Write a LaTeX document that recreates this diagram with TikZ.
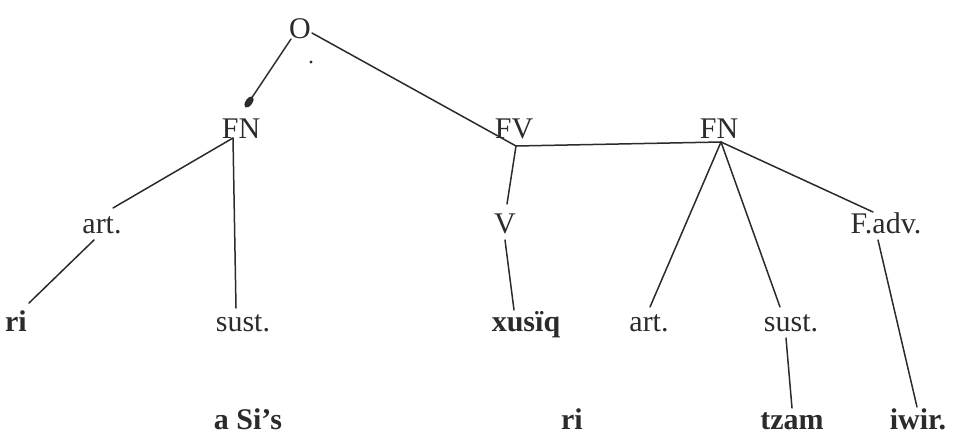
\documentclass[tikz,border=0pt]{standalone}
\usepackage{fontspec}
\setmainfont{Liberation Serif}
\definecolor{ink}{gray}{0.17}
\begin{document}
\begin{tikzpicture}[x=1pt,y=-1pt,
  lab/.style={anchor=base,inner sep=0pt,text=ink,font=\fontsize{30}{30}\selectfont},
  word/.style={lab,font=\fontsize{30}{30}\selectfont\bfseries},
  edge/.style={draw=ink,line width=1.5pt,line cap=round}]
\useasboundingbox (0,0) rectangle (962,434);
% labels of the tree
\node[lab]  (o)    at (300,38)  {O};
\node[lab]  (fn1)  at (241,138) {FN};
\node[lab]  (fv)   at (514,138) {FV};
\node[lab]  (fn2)  at (719,138) {FN};
\node[lab]  (art1) at (102,233) {art.};
\node[lab]  (v)    at (505,233) {V};
\node[lab]  (fadv) at (886,233) {F.adv.};
\node[word] (ri1)  at (16,331)  {ri};
\node[lab]  (sust1) at (243,331) {sust.};
\node[word] (xus)  at (526,331) {xusïq};
\node[lab]  (art2) at (649,331) {art.};
\node[lab]  (sust2) at (791,331) {sust.};
\node[word] (asis) at (248,429) {a Si’s};
\node[word] (ri2)  at (572,429) {ri};
\node[word] (tzam) at (792,429) {tzam};
\node[word] (iwir) at (918,429) {iwir.};
% branching points and line ends
\coordinate (o-l) at (291,39);
\coordinate (o-r) at (312,33);
\coordinate (fn1-top) at (249,102);
\coordinate (fn1-v) at (233,138);
\coordinate (fv-v) at (516,146);
\coordinate (fn2-v) at (721,142);
\coordinate (art1-t) at (113,208);
\coordinate (art1-b) at (94,240);
\coordinate (ri1-t) at (29,303);
\coordinate (sust1-t) at (236,308);
\coordinate (v-t) at (507,204);
\coordinate (v-b) at (505,240);
\coordinate (xus-t) at (514,310);
\coordinate (art2-t) at (650,307);
\coordinate (sust2-t) at (780,307);
\coordinate (sust2-b) at (786,338);
\coordinate (tzam-t) at (792,408);
\coordinate (fadv-t) at (873,212);
\coordinate (fadv-b) at (878,240);
\coordinate (iwir-t) at (917,407);
% connectors
\draw[edge] (o-l) -- (fn1-top);
\fill[ink] (fn1-top) ellipse[x radius=3.4, y radius=6.5, rotate=-35];
\fill[ink] (311,62) circle[radius=1.6];
\draw[edge] (o-r) -- (fv-v);
\draw[edge] (fv-v) -- (fn2-v);
\draw[edge] (fn1-v) -- (art1-t);
\draw[edge] (fn1-v) -- (sust1-t);
\draw[edge] (art1-b) -- (ri1-t);
\draw[edge] (fv-v) -- (v-t);
\draw[edge] (v-b) -- (xus-t);
\draw[edge] (fn2-v) -- (art2-t);
\draw[edge] (fn2-v) -- (sust2-t);
\draw[edge] (fn2-v) -- (fadv-t);
\draw[edge] (sust2-b) -- (tzam-t);
\draw[edge] (fadv-b) -- (iwir-t);
\end{tikzpicture}
\end{document}
